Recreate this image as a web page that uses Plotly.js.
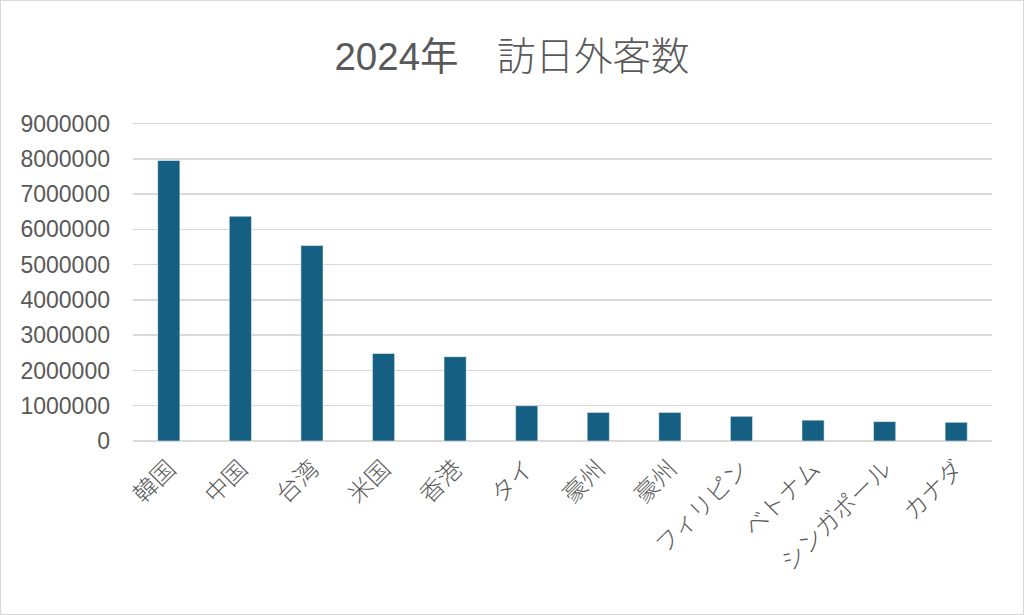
<!DOCTYPE html>
<html><head><meta charset="utf-8">
<script src="https://cdn.plot.ly/plotly-3.0.1.min.js"></script>
<style>
html,body{margin:0;padding:0;background:#fff;}
#chart{width:1022px;height:613px;border:1px solid #d9d9d9;}
</style></head>
<body><div id="chart"></div>
<script>
const categories = ["韓国","中国","台湾","米国","香港","タイ","豪州","豪州","フィリピン","ベトナム","シンガポール","カナダ"];
const visitors = [7950000,6370000,5540000,2480000,2390000,1000000,810000,810000,700000,590000,550000,530000];
const yTicks = [0,1000000,2000000,3000000,4000000,5000000,6000000,7000000,8000000,9000000];
const positions = categories.map((c,i)=>i);
const font = "'Liberation Sans', 'Noto Sans CJK JP', Arial, sans-serif";
Plotly.newPlot('chart',[{
  type:'bar', x:positions, y:visitors, width:0.31,
  marker:{color:'#156082', line:{color:'#ffffff', width:0.5}},
  hoverinfo:'skip'
}],{
  width:1022, height:613,
  margin:{l:132,r:31,t:120,b:173},
  paper_bgcolor:'#fff', plot_bgcolor:'#fff',
  title:{text:'2024年<span style="font-weight:300">　訪日外客数</span>', x:0.5, xanchor:'center', y:0.91, yanchor:'middle',
    font:{family:font, size:38.5, color:'#595959'}},
  xaxis:{range:[-0.5,11.5], tickvals:positions, ticktext:categories, tickangle:-45,
    showgrid:false, zeroline:false, showline:false, ticks:'', ticklabelstandoff:8,
    tickfont:{family:font, size:24, color:'#595959', weight:300}},
  yaxis:{range:[0,9070000], tickvals:yTicks, tickformat:'d', showgrid:true, gridcolor:'#d9d9d9', gridwidth:1.5,
    zeroline:true, zerolinecolor:'#d9d9d9', zerolinewidth:1.5, showline:false, ticks:'', ticklabelstandoff:22,
    tickfont:{family:font, size:23, color:'#595959'}},
  showlegend:false
},{displayModeBar:false, staticPlot:true});
</script></body></html>
